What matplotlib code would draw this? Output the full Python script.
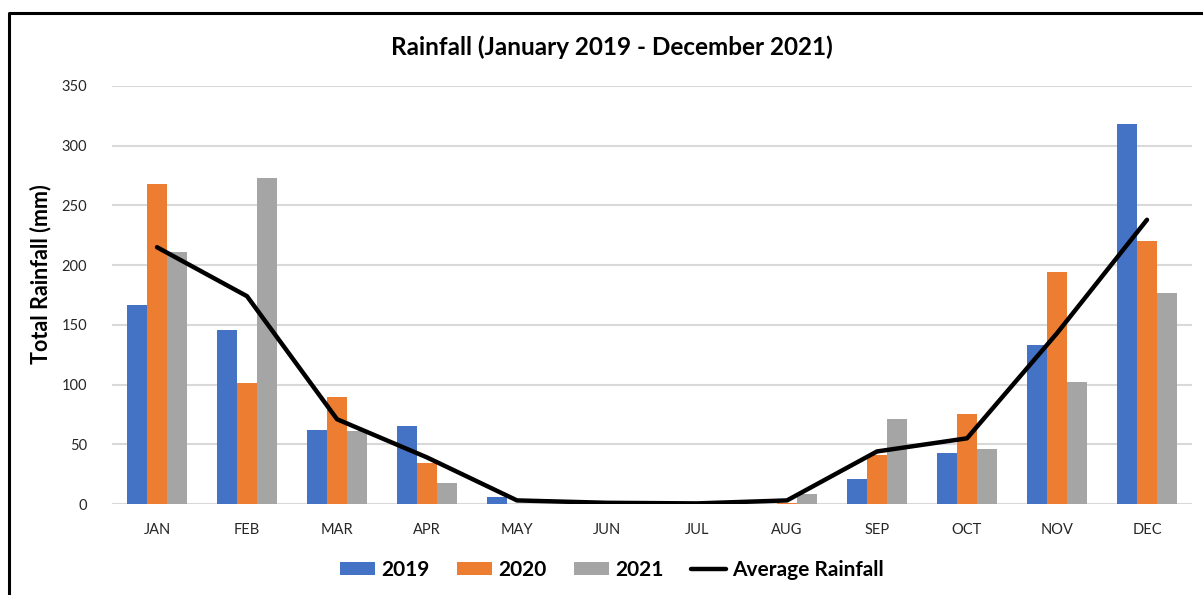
import matplotlib
matplotlib.use("Agg")
import matplotlib.pyplot as plt
import numpy as np
from matplotlib.lines import Line2D

months = ["JAN", "FEB", "MAR", "APR", "MAY", "JUN", "JUL", "AUG", "SEP", "OCT", "NOV", "DEC"]
rain_2019 = [167, 146, 62, 65, 6, 0, 0, 0, 21, 43, 133, 318]
rain_2020 = [268, 101, 90, 34, 0, 0, 0, 1, 41, 75, 194, 220]
rain_2021 = [211, 273, 61, 18, 0, 0, 0, 8, 71, 46, 102, 177]
avg_rain = [215, 174, 71, 39, 3, 1, 0.5, 3, 44, 55, 143, 238]
y_ticks = [0, 50, 100, 150, 200, 250, 300, 350]

FONT = ["Lato", "DejaVu Sans"]
plt.rcParams["font.family"] = FONT

fig = plt.figure(figsize=(12.03, 5.95), dpi=100)
ax = fig.add_axes([112 / 1203, 1 - 504 / 595, 1080 / 1203, 418 / 595])

x = np.arange(len(months))
w = 0.222
colors = ["#4472C4", "#ED7D31", "#A5A5A5"]
series = [("2019", rain_2019), ("2020", rain_2020), ("2021", rain_2021)]
for i, (lab, vals) in enumerate(series):
    ax.bar(x + (i - 1) * w, vals, width=w, color=colors[i], label=lab, zorder=2)

ax.plot(x, avg_rain, color="black", lw=3.2, label="Average Rainfall", zorder=3,
        solid_capstyle="round", solid_joinstyle="round")

ax.set_xlim(-0.5, len(months) - 0.5)
ax.set_ylim(0, 350)
ax.set_yticks(y_ticks)
ax.set_xticks(x)
ax.set_xticklabels(months)
ax.yaxis.grid(True, color="#d9d9d9", lw=1.5, zorder=0)
ax.set_axisbelow(True)
for s in ax.spines.values():
    s.set_visible(False)
ax.tick_params(axis="both", length=0, labelsize=10.5, colors="#262626")
ax.tick_params(axis="y", pad=18)
ax.tick_params(axis="x", pad=14)

ax.set_ylabel("Total Rainfall (mm)", fontsize=15.5, fontweight="bold")
ax.yaxis.set_label_coords(-0.056, 0.55)

fig.text(612 / 1203, 1 - 47 / 595, "Rainfall (January 2019 - December 2021)",
         ha="center", va="center", fontsize=17.5, fontweight="bold")

handles, labels = ax.get_legend_handles_labels()
order = [1, 2, 3, 0]
fig.legend([handles[i] for i in order], [labels[i] for i in order],
           loc="center", bbox_to_anchor=(612 / 1203, 1 - 570 / 595), ncol=4,
           frameon=False, prop={"size": 15, "weight": "bold"},
           handlelength=1.65, handleheight=0.55, columnspacing=1.35, handletextpad=0.3)

# outer chart frame
fig.add_artist(Line2D([9 / 1203, 9 / 1203, 1.0], [0.0, 1 - 13 / 595, 1 - 13 / 595],
                      transform=fig.transFigure, color="black", lw=2.2))

fig.savefig("out.png", dpi=100)
